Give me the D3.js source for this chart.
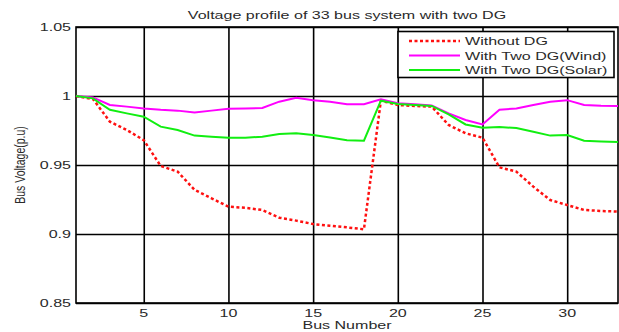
<html>
<head>
    <script src="https://d3js.org/d3.v7.min.js"></script>
</head>
<style>
    body { margin: 0; background: #fff; }
    text { font-family: "Liberation Sans", Arial, sans-serif; fill: #2a2a2a; }
</style>
<body>
<svg width="619" height="332"></svg>
<script>

    // bus voltages (p.u.), buses 1..33
    var buses = d3.range(1, 34);
    var withoutDG = [1.0, 0.9978, 0.9814, 0.9754, 0.968, 0.9493, 0.9452, 0.932, 0.9259, 0.9198, 0.919,
                     0.9174, 0.9118, 0.9097, 0.9072, 0.906, 0.9048, 0.9034, 0.9966, 0.9935, 0.9928, 0.9923,
                     0.979, 0.973, 0.9698, 0.9483, 0.9452, 0.9343, 0.9246, 0.921, 0.9174, 0.9167, 0.9162];
    var windDG = [1.0, 0.999, 0.9935, 0.9923, 0.991, 0.990, 0.9894, 0.988, 0.9894, 0.9908, 0.991,
                  0.9913, 0.9959, 0.9988, 0.997, 0.9959, 0.994, 0.994, 0.9976, 0.9947, 0.994, 0.9932,
                  0.9874, 0.9826, 0.9794, 0.990, 0.991, 0.9935, 0.9959, 0.997, 0.9935, 0.993, 0.9928];
    var solarDG = [1.0, 0.9983, 0.990, 0.9874, 0.985, 0.9778, 0.9754, 0.9713, 0.9705, 0.9698, 0.9698,
                   0.9705, 0.9725, 0.973, 0.9717, 0.970, 0.968, 0.9676, 0.9966, 0.9942, 0.9935, 0.9928,
                   0.9867, 0.9794, 0.977, 0.9775, 0.9768, 0.9741, 0.9713, 0.9717, 0.9676, 0.9671, 0.9667];

    var seriesNames = ["Without DG", "With Two DG(Wind)", "With Two DG(Solar)"];
    var xTicks = [5, 10, 15, 20, 25, 30];
    var yTicks = [0.85, 0.9, 0.95, 1, 1.05];
    var yTickLabels = ["0.85", "0.9", "0.95", "1", "1.05"];

    var SX = 1.46; // the source picture is stretched sideways

    var svg = d3.select("svg"),
        pLeft = 76, pRight = 618, pTop = 27, pBottom = 303;

    var xScale = d3.scaleLinear().domain([1, 33]).range([pLeft, pRight]),
        yScale = d3.scaleLinear().domain([0.85, 1.05]).range([pBottom, pTop]);

    function stretchedText(x, y, str, anchor, size) {
        return svg.append("text")
            .attr("transform", "translate(" + x + "," + y + ") scale(" + SX + ",1)")
            .attr("text-anchor", anchor)
            .attr("font-size", size)
            .text(str);
    }

    // grid + x ticks
    var gx = svg.append("g")
        .attr("transform", "translate(0," + pBottom + ")")
        .call(d3.axisBottom(xScale).tickValues(xTicks).tickSize(-(pBottom - pTop)).tickPadding(0));
    gx.select(".domain").remove();
    gx.selectAll("line").attr("stroke", "#000").attr("stroke-width", 1.6);
    gx.selectAll("text").remove();
    xTicks.forEach(function(t) {
        stretchedText(xScale(t), 317, String(t), "middle", "11px");
    });

    var gy = svg.append("g")
        .attr("transform", "translate(" + pLeft + ",0)")
        .call(d3.axisLeft(yScale).tickValues(yTicks).tickSize(-(pRight - pLeft)));
    gy.select(".domain").remove();
    gy.selectAll("line").attr("stroke", "#000").attr("stroke-width", 1.6);
    gy.selectAll("text").remove();
    yTicks.forEach(function(t, i) {
        stretchedText(71, yScale(t) + 4, yTickLabels[i], "end", "11px");
    });

    // box
    svg.append("rect")
        .attr("x", pLeft).attr("y", pTop)
        .attr("width", pRight - pLeft).attr("height", pBottom - pTop)
        .attr("fill", "none").attr("stroke", "#000").attr("stroke-width", 1.6);

    // lines
    var line = d3.line()
        .x(function(d, i) { return xScale(buses[i]); })
        .y(function(d) { return yScale(d); });

    svg.append("path").datum(withoutDG)
        .attr("d", line).attr("fill", "none")
        .attr("stroke", "#ff1010").attr("stroke-width", 2.5)
        .attr("stroke-dasharray", "3,2.5");
    svg.append("path").datum(windDG)
        .attr("d", line).attr("fill", "none")
        .attr("stroke", "#ff00ff").attr("stroke-width", 2);
    svg.append("path").datum(solarDG)
        .attr("d", line).attr("fill", "none")
        .attr("stroke", "#11ee11").attr("stroke-width", 2);

    // title and axis labels
    stretchedText((pLeft + pRight) / 2, 19, "Voltage profile of 33 bus system with two DG", "middle", "11px");
    stretchedText((pLeft + pRight) / 2, 329, "Bus Number", "middle", "11px");
    svg.append("text")
        .attr("transform", "translate(25," + ((pTop + pBottom) / 2) + ") scale(" + SX + ",1) rotate(-90)")
        .attr("text-anchor", "middle")
        .attr("font-size", "10.5px")
        .text("Bus Voltage(p.u)");

    // legend
    var lg = svg.append("g");
    lg.append("rect")
        .attr("x", 398).attr("y", 31.5).attr("width", 216).attr("height", 46)
        .attr("fill", "#fff").attr("stroke", "#000").attr("stroke-width", 1.6);
    var legendColors = ["#ff1010", "#ff00ff", "#11ee11"];
    seriesNames.forEach(function(name, i) {
        var ly = 41 + i * 14.5;
        var l = lg.append("line")
            .attr("x1", 409).attr("x2", 460).attr("y1", ly).attr("y2", ly)
            .attr("stroke", legendColors[i]).attr("stroke-width", i == 0 ? 2.5 : 2);
        if (i == 0) l.attr("stroke-dasharray", "3,2.5");
        stretchedText(465, ly + 4, name, "start", "11px");
    });
</script>
</body>
</html>
